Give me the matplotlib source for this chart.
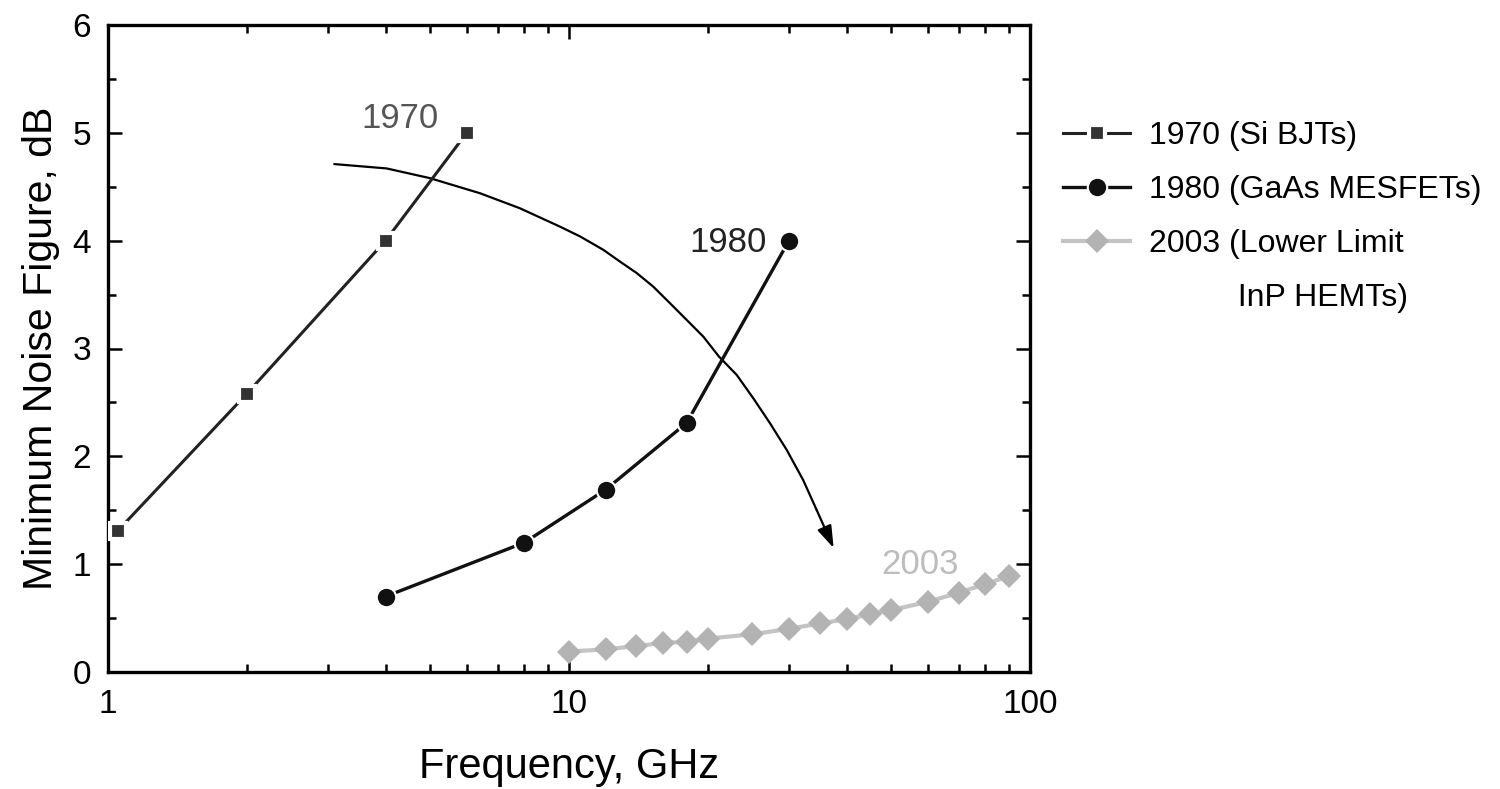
import matplotlib
matplotlib.use("Agg")
import matplotlib.pyplot as plt
from matplotlib.lines import Line2D
from matplotlib.ticker import LogLocator, FixedLocator, NullFormatter, FixedFormatter

plt.rcParams['font.family'] = ['Liberation Sans', 'DejaVu Sans']

# Minimum noise figure vs frequency for three device generations
freq_1970 = [1.05, 2.0, 4.0, 6.0]
nf_1970 = [1.31, 2.58, 4.0, 5.0]

freq_1980 = [4.0, 8.0, 12.0, 18.0, 30.0]
nf_1980 = [0.70, 1.20, 1.69, 2.31, 4.0]

freq_2003 = [10, 12, 14, 16, 18, 20, 25, 30, 35, 40, 45, 50, 60, 70, 80, 90]
nf_2003 = [0.19, 0.21, 0.24, 0.27, 0.28, 0.31, 0.35, 0.40, 0.45, 0.49,
           0.535, 0.575, 0.65, 0.735, 0.815, 0.89]

# Trend arrow sweeping across the generations
trend_freq = [3.1, 4.02, 4.99, 6.41, 7.83, 9.56, 10.56, 11.87, 12.9, 14.02,
              15.23, 16.56, 18.0, 19.56, 21.15, 23.11, 25.1, 27.29, 29.67,
              32.2, 34.45, 37.5]
trend_nf = [4.71, 4.67, 4.58, 4.44, 4.30, 4.13, 4.04, 3.915, 3.806, 3.70,
            3.574, 3.42, 3.265, 3.11, 2.925, 2.755, 2.539, 2.307, 2.059,
            1.781, 1.503, 1.15]

legend_labels = ["1970 (Si BJTs)", "1980 (GaAs MESFETs)", "2003 (Lower Limit",
                 "          InP HEMTs)"]

fig = plt.figure(figsize=(15, 7.89), dpi=100)
ax = fig.add_axes([108 / 1500, 1 - 672 / 789, (1030 - 108) / 1500, (672 - 25) / 789])

c70, c80, c03 = "#333333", "#111111", "#b3b3b3"

ax.plot(freq_1970, nf_1970, color="#222222", lw=2.2, marker="s", ms=12,
        mfc=c70, mec="white", mew=3, zorder=3)
ax.plot(freq_1980, nf_1980, color=c80, lw=2.4, marker="o", ms=14,
        mfc=c80, mec="white", mew=1.5, zorder=3)
ax.plot(freq_2003, nf_2003, color="#c4c4c4", lw=3, marker="D", ms=12,
        mfc=c03, mec=c03, mew=0, zorder=3)

ax.plot(trend_freq[:-1], trend_nf[:-1], color="black", lw=1.6, zorder=2,
        solid_joinstyle="round")
ax.annotate("", xy=(trend_freq[-1], trend_nf[-1]),
            xytext=(trend_freq[-2], trend_nf[-2]),
            arrowprops=dict(arrowstyle="-|>,head_length=0.9,head_width=0.3",
                            color="black", lw=1.6,
                            mutation_scale=15, shrinkA=0, shrinkB=0),
            zorder=2)

ax.text(4.3, 5.13, "1970", color="#555555", fontsize=25, ha="center", va="center")
ax.text(22.1, 3.98, "1980", color="#222222", fontsize=25, ha="center", va="center")
ax.text(57.7, 1.0, "2003", color="#bdbdbd", fontsize=25, ha="center", va="center")

ax.set_xscale("log")
ax.set_xlim(1, 100)
ax.set_ylim(0, 6)

ax.xaxis.set_major_locator(FixedLocator([1, 10, 100]))
ax.xaxis.set_major_formatter(FixedFormatter(["1", "10", "100"]))
ax.xaxis.set_minor_locator(LogLocator(base=10, subs=range(2, 10)))
ax.xaxis.set_minor_formatter(NullFormatter())
ax.set_yticks(range(0, 7))
ax.set_yticks([0.5, 1.5, 2.5, 3.5, 4.5, 5.5], minor=True)

ax.tick_params(which="both", direction="in", top=True, right=True, width=1.8,
               labelsize=24, pad=12, colors="black")
ax.tick_params(which="major", length=10)
ax.tick_params(which="minor", length=6)
for sp in ax.spines.values():
    sp.set_linewidth(2.4)

ax.set_xlabel("Frequency, GHz", fontsize=30, labelpad=20)
ax.set_ylabel("Minimum Noise Figure, dB", fontsize=29.5, labelpad=9)

handles = [
    Line2D([], [], color="#222222", lw=2.2, marker="s", ms=12, mfc=c70, mec="white", mew=3),
    Line2D([], [], color=c80, lw=2.4, marker="o", ms=14, mfc=c80, mec="white", mew=1.5),
    Line2D([], [], color="#c4c4c4", lw=3, marker="D", ms=12, mfc=c03, mec=c03, mew=0),
    Line2D([], [], color="none"),
]
fig.legend(handles, legend_labels, loc="upper left",
           bbox_to_anchor=(1063 / 1500, 1 - 121 / 789), frameon=False,
           fontsize=23, handlelength=2.1, handletextpad=0.6, labelspacing=0.75,
           borderpad=0, borderaxespad=0)

fig.savefig("out.png", dpi=100, facecolor="white")
